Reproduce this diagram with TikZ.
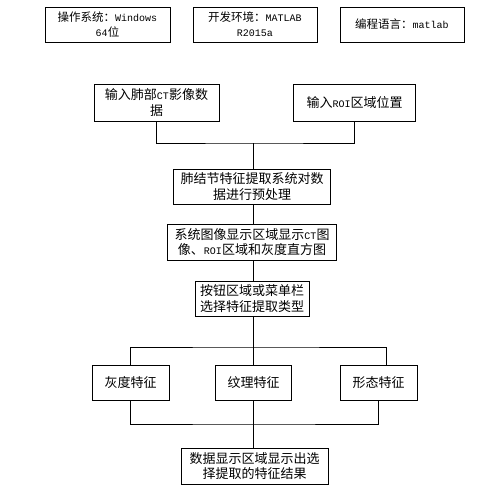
\documentclass[tikz,border=0pt]{standalone}
\usepackage{fontspec}
\setmainfont{Noto Sans CJK SC}
\setmonofont{Liberation Mono}
\newcommand\mtx[1]{{\ttfamily\fontsize{10}{12}\selectfont #1}}
\begin{document}
\begin{tikzpicture}[x=1pt,y=-1pt,
  box/.style={draw, line width=0.9pt, minimum height=35pt, inner sep=1pt, align=center,
              font=\fontsize{13}{15.5}\selectfont},
  topbox/.style={box, font=\fontsize{11.5}{15}\selectfont},
  link/.style={line width=0.9pt}]
\useasboundingbox (0,0) rectangle (493,493);
% top info boxes
\node[topbox, minimum width=125pt] (t1) at (107.5,24.5) {操作系统：\mtx{Windows}\\\mtx{64}位};
\node[topbox, minimum width=124pt] (t2) at (255,24.5) {开发环境：\mtx{MATLAB}\\\mtx{R2015a}};
\node[topbox, minimum width=124pt] (t3) at (402,24.5) {编程语言：\mtx{matlab}};
% inputs
\node[box, minimum width=125pt, minimum height=37pt] (in1) at (156.5,102.5) {输入肺部\mtx{CT}影像数\\据};
\node[box, minimum width=122pt, minimum height=37pt] (in2) at (354.5,102.5) {输入\mtx{ROI}区域位置};
% process chain
\node[box, minimum width=157pt] (pre) at (252,186.5) {肺结节特征提取系统对数\\据进行预处理};
\node[box, minimum width=169pt, minimum height=36pt] (disp) at (252,242) {系统图像显示区域显示\mtx{CT}图\\像、\mtx{ROI}区域和灰度直方图};
\node[box, minimum width=114pt] (btn) at (252,298.5) {按钮区域或菜单栏\\选择特征提取类型};
% features
\node[box, minimum width=77pt] (f1) at (130.5,382.5) {灰度特征};
\node[box, minimum width=76pt] (f2) at (253.5,382.5) {纹理特征};
\node[box, minimum width=77pt] (f3) at (378.5,382.5) {形态特征};
% output
\node[box, minimum width=147pt, minimum height=36pt] (out) at (254.5,466) {数据显示区域显示出选\\择提取的特征结果};
% junctions
\coordinate (j1) at (253.5,143);
\coordinate (j2) at (253.5,347);
\coordinate (j3) at (253.5,424);
% connectors
\draw[link] (in1.south) |- (j1) -| (in2.south);
\draw[link] (j1) -- (j1 |- pre.north);
\draw[link] (pre.south -| j1) -- (disp.north -| j1);
\draw[link] (disp.south -| j1) -- (btn.north -| j1);
\draw[link] (btn.south -| j2) -- (j2);
\draw[link] (f1.north) |- (j2) -| ([xshift=7.5pt]f3.north);
\draw[link] (j2) -- (f2.north -| j2);
\draw[link] (f1.south) |- (j3) -| (f3.south);
\draw[link] (f2.south -| j3) -- (out.north -| j3);
\end{tikzpicture}
\end{document}
